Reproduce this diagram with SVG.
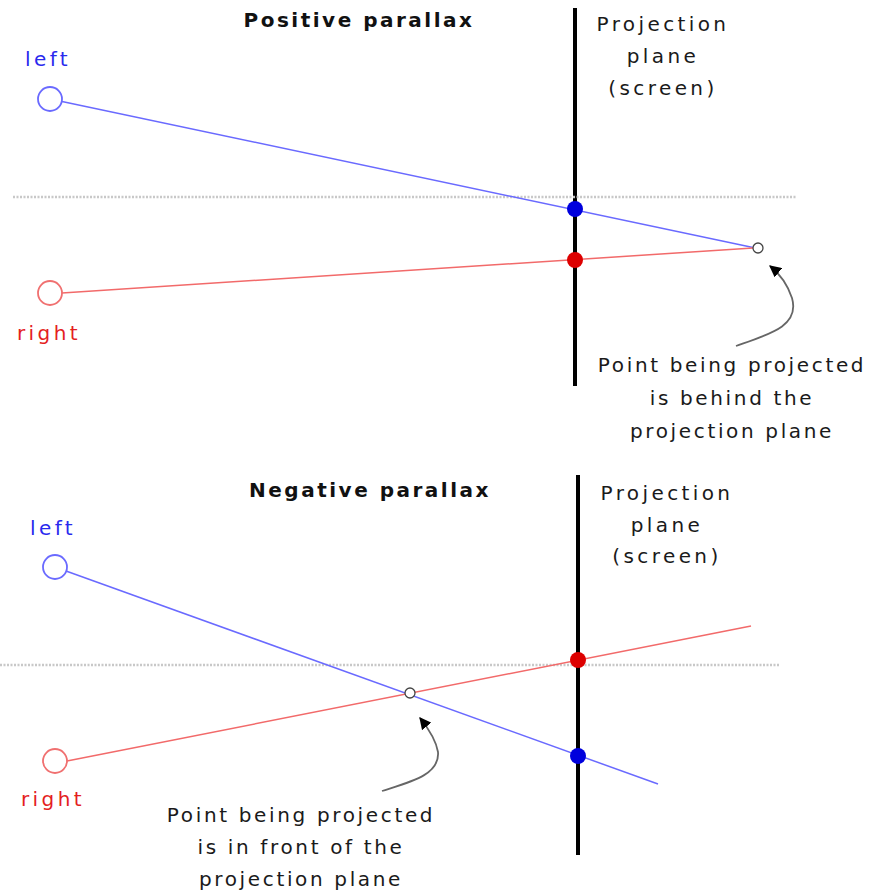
<svg xmlns="http://www.w3.org/2000/svg" width="869" height="891" viewBox="0 0 869 891">
<defs>
<style>
text{font-family:"DejaVu Sans","Liberation Sans",sans-serif;}
.title{font-size:20px;font-weight:bold;fill:#111;letter-spacing:2.5px;text-anchor:middle;}
.lbl{font-size:20px;fill:#1a1a1a;letter-spacing:2.65px;text-anchor:middle;}
.pl{letter-spacing:3.4px;}
.eye{font-size:20px;letter-spacing:3.4px;}
.blue{fill:#2a2aee;}
.red{fill:#e41e1e;}
.plane{stroke:#000;stroke-width:4;fill:none;}
.horizon{stroke:#c8c8c8;stroke-width:2.5;stroke-dasharray:2 1.5;fill:none;}
.bl{stroke:#6a6aff;stroke-width:1.5;fill:none;}
.rl{stroke:#f26a6a;stroke-width:1.5;fill:none;}
.eyeL{fill:#fff;stroke:#6a6aff;stroke-width:1.8;}
.eyeR{fill:#fff;stroke:#f07070;stroke-width:1.8;}
.pt{fill:#fff;stroke:#444;stroke-width:1.3;}
.callout{stroke:#666;stroke-width:1.8;fill:none;}
</style>
<marker id="arr" viewBox="0 0 10 10" refX="9" refY="5" markerWidth="12" markerHeight="12" markerUnits="userSpaceOnUse" orient="auto">
<path d="M0,0 L10,5 L0,10 z" fill="#000"/>
</marker>
</defs>

<g id="positive">
<text class="title" x="359" y="27">Positive parallax</text>
<g id="pos-plane">
<line class="plane" x1="575" y1="8" x2="575" y2="386"/>
<text class="lbl pl" x="663" y="31">Projection</text>
<text class="lbl pl" x="663" y="63">plane</text>
<text class="lbl pl" x="663" y="95">(screen)</text>
</g>
<line class="horizon" x1="13" y1="197" x2="797" y2="197"/>
<g id="connectors-pos">
<line class="bl" x1="62" y1="101.5" x2="753" y2="247.5"/>
<line class="rl" x1="62" y1="293" x2="753" y2="248"/>
<path class="callout" d="M736,346 C770,334 800,326 792,298 C788,286 780,274 770,266" marker-end="url(#arr)"/>
</g>
<g id="pos-left-eye">
<text class="eye blue" x="25" y="66">left</text>
<circle class="eyeL" cx="50" cy="99" r="12"/>
</g>
<g id="pos-right-eye">
<circle class="eyeR" cx="50" cy="293" r="12"/>
<text class="eye red" x="17" y="340">right</text>
</g>
<circle id="pos-blue-proj" cx="575" cy="209" r="8" fill="#0000dd"/>
<circle id="pos-red-proj" cx="575" cy="260" r="8" fill="#dd0000"/>
<circle id="pos-point" class="pt" cx="758" cy="248" r="5"/>
<g id="pos-note">
<text class="lbl" x="732" y="372">Point being projected</text>
<text class="lbl" x="732" y="405">is behind the</text>
<text class="lbl" x="732" y="438">projection plane</text>
</g>
</g>

<g id="negative">
<text class="title" x="370" y="497">Negative parallax</text>
<g id="neg-plane">
<line class="plane" x1="578" y1="475" x2="578" y2="855"/>
<text class="lbl pl" x="667" y="500">Projection</text>
<text class="lbl pl" x="667" y="532">plane</text>
<text class="lbl pl" x="667" y="563">(screen)</text>
</g>
<line class="horizon" x1="0" y1="665" x2="780" y2="665"/>
<g id="connectors-neg">
<line class="bl" x1="66" y1="571" x2="658" y2="784"/>
<line class="rl" x1="67" y1="761" x2="751" y2="626"/>
<path class="callout" d="M382,791 C410,782 440,775 438,752 C436,740 428,728 420,718" marker-end="url(#arr)"/>
</g>
<g id="neg-left-eye">
<text class="eye blue" x="30" y="535">left</text>
<circle class="eyeL" cx="55" cy="567" r="12"/>
</g>
<g id="neg-right-eye">
<circle class="eyeR" cx="55" cy="761" r="12"/>
<text class="eye red" x="21" y="806">right</text>
</g>
<circle id="neg-red-proj" cx="578" cy="660" r="8" fill="#dd0000"/>
<circle id="neg-blue-proj" cx="578" cy="756" r="8" fill="#0000dd"/>
<circle id="neg-point" class="pt" cx="410" cy="693" r="5"/>
<g id="neg-note">
<text class="lbl" x="301" y="822">Point being projected</text>
<text class="lbl" x="301" y="854">is in front of the</text>
<text class="lbl" x="301" y="886">projection plane</text>
</g>
</g>
</svg>
